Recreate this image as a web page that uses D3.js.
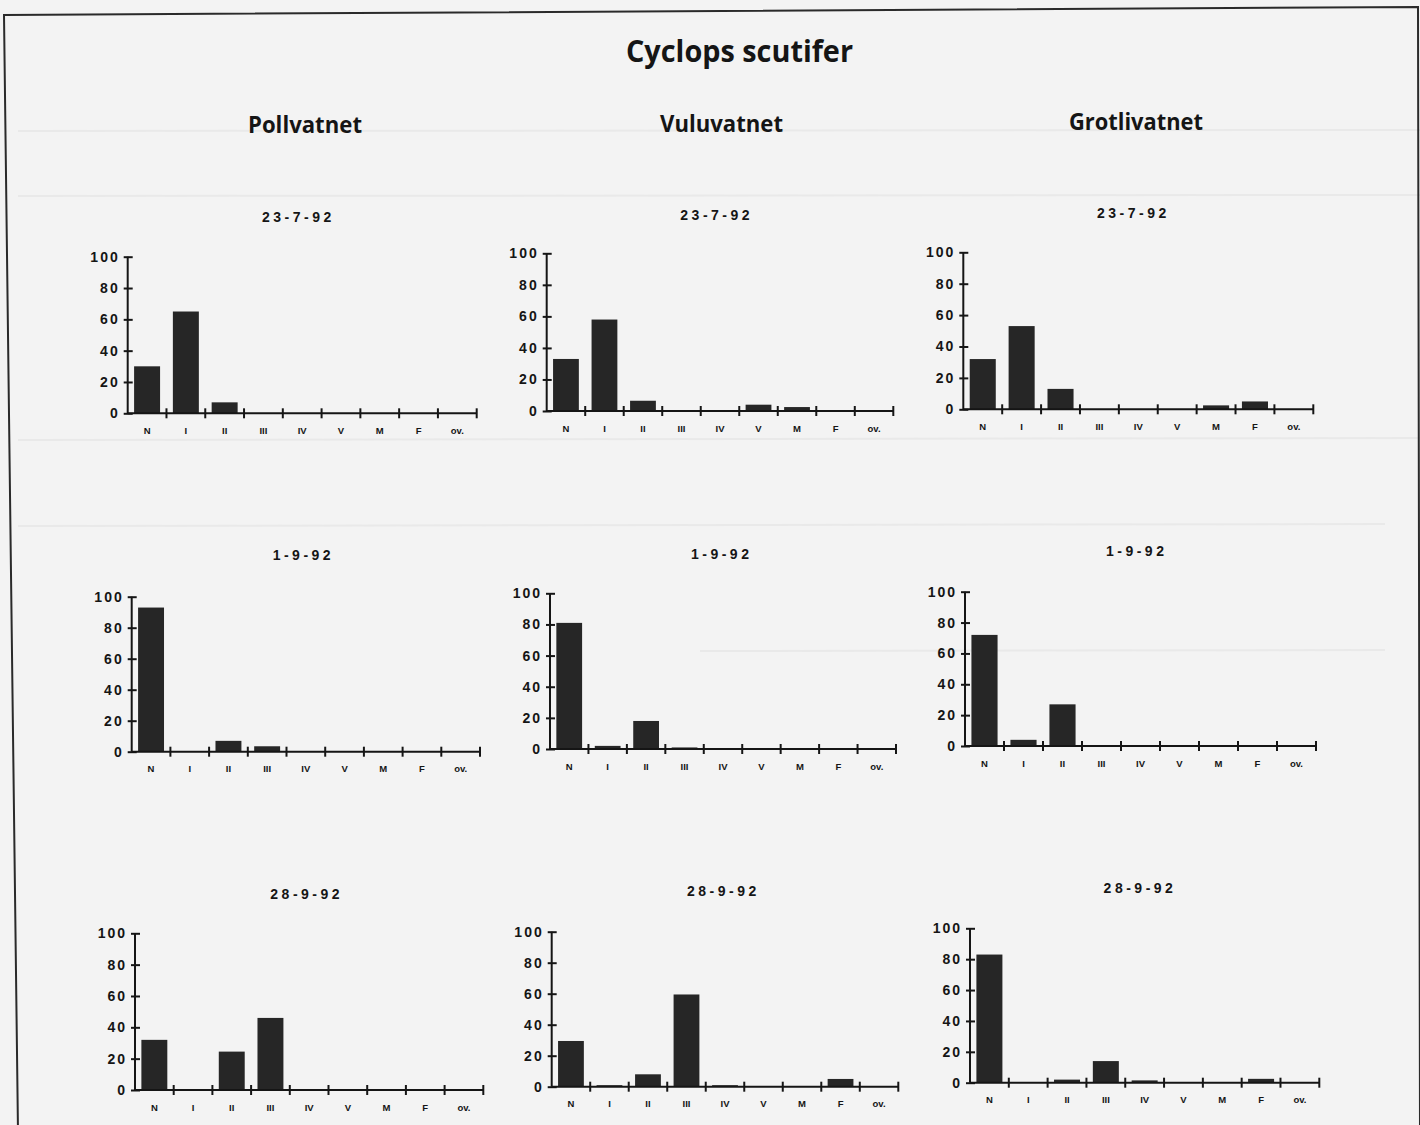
<!DOCTYPE html>
<html>
<head>
<meta charset="utf-8">
<script src="https://cdn.jsdelivr.net/npm/d3@7"></script>
<style>
  html, body { margin: 0; padding: 0; background: #f3f3f3; }
  svg { display: block; }
</style>
</head>
<body>
<svg id="chart" width="1420" height="1125"></svg>
<script>
// ---------- DATA ----------
const mainTitle = "Cyclops scutifer";
const lakes = ["Pollvatnet", "Vuluvatnet", "Grotlivatnet"];
const dates = ["23-7-92", "1-9-92", "28-9-92"];
const categories = ["N", "I", "II", "III", "IV", "V", "M", "F", "ov."];
const yTicks = [0, 20, 40, 60, 80, 100];

// percentage per stage (N, I, II, III, IV, V, M, F, ov.)
const pollvatnet_23_7  = [30, 65, 7, 0, 0, 0, 0, 0, 0];
const vuluvatnet_23_7  = [33, 58, 6.5, 0, 0, 4, 2.5, 0, 0];
const grotlivatnet_23_7 = [32, 53, 13, 0, 0, 0, 2.5, 5, 0];
const pollvatnet_1_9   = [93, 0, 7, 3.5, 0, 0, 0, 0, 0];
const vuluvatnet_1_9   = [81, 2, 18, 1, 0, 0, 0, 0, 0];
const grotlivatnet_1_9 = [72, 4, 27, 0, 0, 0, 0, 0, 0];
const pollvatnet_28_9  = [32, 0, 24.5, 46, 0, 0, 0, 0, 0];
const vuluvatnet_28_9  = [29.5, 1, 8, 59.5, 1, 0, 0, 5, 0];
const grotlivatnet_28_9 = [83, 0, 2, 14, 1.5, 0, 0, 2.5, 0];

const panelData = [
  [pollvatnet_23_7, vuluvatnet_23_7, grotlivatnet_23_7],
  [pollvatnet_1_9, vuluvatnet_1_9, grotlivatnet_1_9],
  [pollvatnet_28_9, vuluvatnet_28_9, grotlivatnet_28_9]
];

// ---------- LAYOUT (scan is slightly skewed, so each panel frame is given) ----------
const frames = [
  [ {x0:127.7, x1:476.7, yTop:256.7, yBase:413.3, tx:296.7, ty:216.7},
    {x0:546.7, x1:893.3, yTop:253.3, yBase:411.0, tx:715.0, ty:215.0},
    {x0:963.3, x1:1313.3, yTop:252.3, yBase:409.3, tx:1131.7, ty:213.0} ],
  [ {x0:131.7, x1:480.0, yTop:596.7, yBase:751.7, tx:301.7, ty:555.0},
    {x0:550.0, x1:896.0, yTop:593.3, yBase:749.0, tx:720.0, ty:554.0},
    {x0:965.0, x1:1316.0, yTop:591.7, yBase:746.0, tx:1135.0, ty:550.7} ],
  [ {x0:135.0, x1:483.3, yTop:933.3, yBase:1090.0, tx:305.0, ty:894.0},
    {x0:551.7, x1:898.3, yTop:931.7, yBase:1086.7, tx:721.7, ty:891.0},
    {x0:970.0, x1:1319.3, yTop:928.3, yBase:1082.7, tx:1138.3, ty:888.0} ]
];
const lakeHeads = [
  {x:305, y:133, w:114},
  {x:721.5, y:132, w:123},
  {x:1136, y:130, w:134}
];

const INK = "#151515";
const BAR = "#262626";
const svg = d3.select("#chart");

// faint bleed-through rules of the scanned page
const faint = [[18, 1420, 131, 130], [18, 1420, 196, 195], [18, 1420, 440, 438], [18, 1385, 526, 524], [700, 1385, 651, 650]];
svg.selectAll("line.faint").data(faint).enter().append("line")
  .attr("x1", d => d[0]).attr("x2", d => d[1]).attr("y1", d => d[2]).attr("y2", d => d[3])
  .attr("stroke", "#e9e9e9").attr("stroke-width", 2);

// page frame
svg.append("path")
  .attr("d", "M18,1132 L4,15 L1418,7 L1420,1132")
  .attr("fill", "none").attr("stroke", "#2a2a2a").attr("stroke-width", 2);

// headings
svg.append("text")
  .attr("x", 739.5).attr("y", 62)
  .attr("text-anchor", "middle")
  .attr("font-family", "'Open Sans', 'Liberation Sans', sans-serif")
  .attr("font-weight", 700).attr("font-size", 30)
  .attr("textLength", 227).attr("lengthAdjust", "spacingAndGlyphs")
  .attr("fill", INK)
  .text(mainTitle);

lakes.forEach((name, i) => {
  const h = lakeHeads[i];
  svg.append("text")
    .attr("x", h.x).attr("y", h.y)
    .attr("text-anchor", "middle")
    .attr("font-family", "'Open Sans', 'Liberation Sans', sans-serif")
    .attr("font-weight", 700).attr("font-size", 23)
    .attr("textLength", h.w).attr("lengthAdjust", "spacingAndGlyphs")
    .attr("fill", INK)
    .text(name);
});

// panels
dates.forEach((date, r) => {
  lakes.forEach((lake, c) => {
    const f = frames[r][c];
    const values = panelData[r][c];
    const g = svg.append("g");

    const x = d3.scaleBand().domain(categories).range([f.x0, f.x1])
      .paddingInner(0.33).paddingOuter(0.165);
    const y = d3.scaleLinear().domain([0, 100]).range([f.yBase, f.yTop]);

    // bars
    g.selectAll("rect").data(categories).enter().append("rect")
      .attr("x", d => x(d))
      .attr("width", x.bandwidth())
      .attr("y", (d, i) => y(values[i]))
      .attr("height", (d, i) => f.yBase - y(values[i]))
      .attr("fill", BAR);

    // y axis
    const yAx = g.append("g").attr("transform", `translate(${f.x0},0)`)
      .call(d3.axisLeft(y).tickValues(yTicks).tickSize(4).tickPadding(4).tickFormat(d3.format("d")));
    yAx.select(".domain").attr("stroke", INK).attr("stroke-width", 2)
      .attr("d", `M0,${f.yBase}V${f.yTop}`);
    yAx.selectAll(".tick line").attr("x1", -4).attr("x2", 5)
      .attr("stroke", INK).attr("stroke-width", 2);
    yAx.selectAll(".tick text")
      .attr("font-family", "'Liberation Sans', Arial, sans-serif")
      .attr("font-weight", 700).attr("font-size", 14)
      .attr("letter-spacing", 2)
      .attr("fill", INK);

    // x axis: baseline with crossing ticks at band boundaries
    g.append("line")
      .attr("x1", f.x0).attr("x2", f.x1)
      .attr("y1", f.yBase).attr("y2", f.yBase)
      .attr("stroke", INK).attr("stroke-width", 2);
    const bounds = d3.range(1, categories.length + 1).map(i => x.range()[0] + i * x.step());
    g.selectAll("line.xt").data(bounds).enter().append("line")
      .attr("x1", d => d).attr("x2", d => d)
      .attr("y1", f.yBase - 5).attr("y2", f.yBase + 5)
      .attr("stroke", INK).attr("stroke-width", 2);

    // category labels
    g.selectAll("text.cat").data(categories).enter().append("text")
      .attr("x", d => x(d) + x.bandwidth() / 2)
      .attr("y", f.yBase + 17)
      .attr("dominant-baseline", "central")
      .attr("text-anchor", "middle")
      .attr("font-family", "'Liberation Sans', Arial, sans-serif")
      .attr("font-weight", 700).attr("font-size", 9.5)
      .attr("fill", INK)
      .text(d => d);

    // panel date title
    g.append("text")
      .attr("x", f.tx + 1.7).attr("y", f.ty)
      .attr("dominant-baseline", "central")
      .attr("text-anchor", "middle")
      .attr("font-family", "'Liberation Sans', Arial, sans-serif")
      .attr("font-weight", 700).attr("font-size", 14)
      .attr("letter-spacing", 3.5)
      .attr("fill", INK)
      .text(date);
  });
});
</script>
</body>
</html>
